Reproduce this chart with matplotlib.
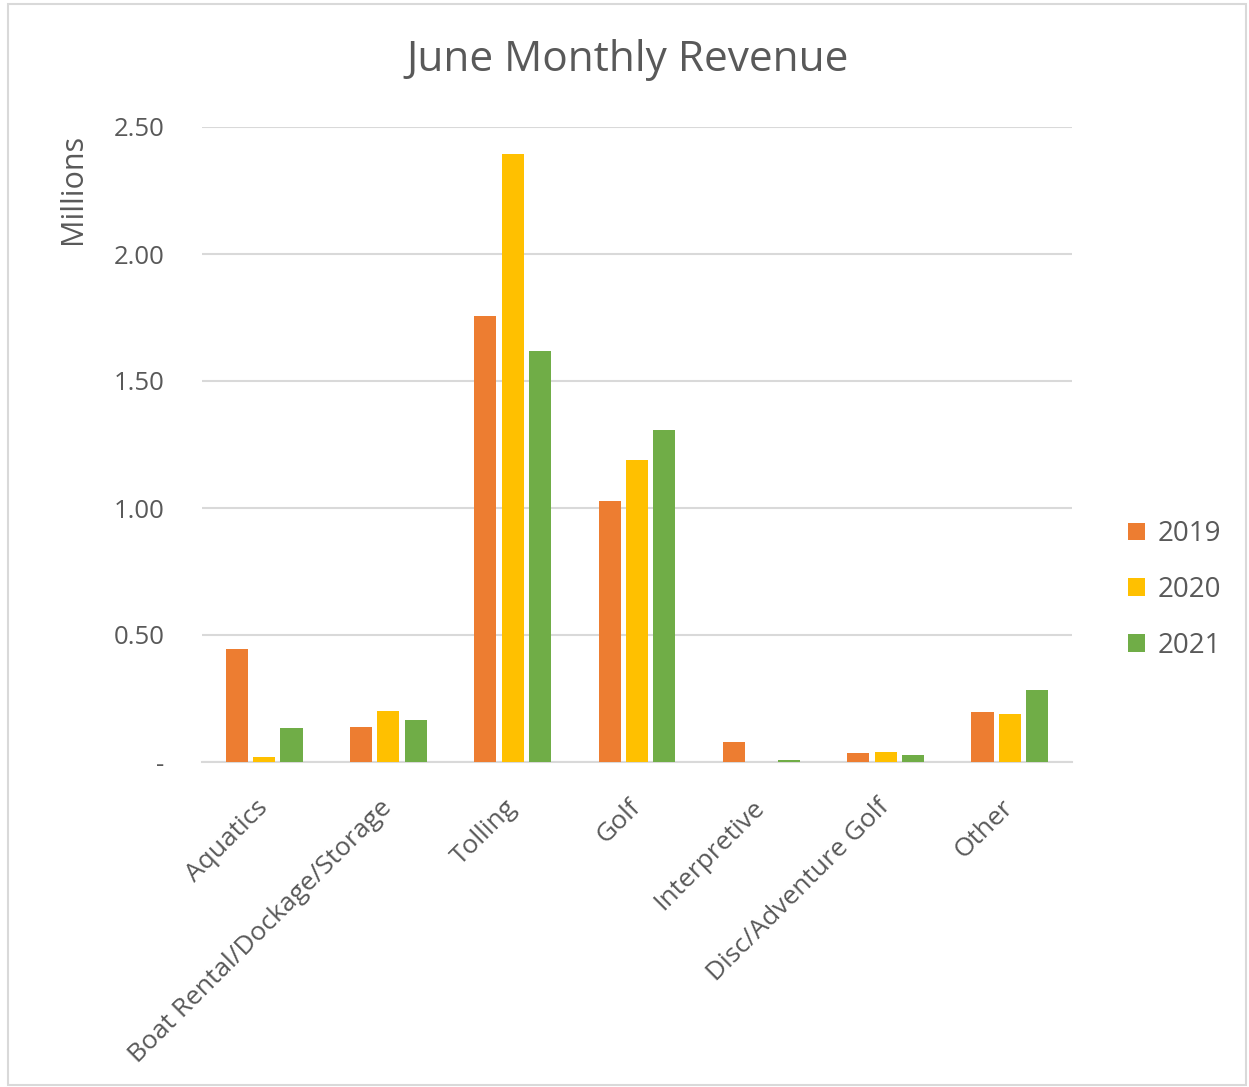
import matplotlib
matplotlib.use("Agg")
import matplotlib.pyplot as plt
import numpy as np
from matplotlib.patches import Rectangle

categories = ["Aquatics", "Boat Rental/Dockage/Storage", "Tolling", "Golf",
              "Interpretive", "Disc/Adventure Golf", "Other"]
years = ["2019", "2020", "2021"]
v2019 = [0.444, 0.139, 1.756, 1.028, 0.078, 0.034, 0.196]
v2020 = [0.020, 0.200, 2.394, 1.189, 0.0, 0.039, 0.189]
v2021 = [0.133, 0.164, 1.618, 1.307, 0.008, 0.026, 0.282]
yticks = [0, 0.5, 1.0, 1.5, 2.0, 2.5]
ytick_labels = ["-", "0.50", "1.00", "1.50", "2.00", "2.50"]
colors = ["#ED7D31", "#FFC000", "#70AD47"]

plt.rcParams['font.family'] = ['Open Sans', 'DejaVu Sans']
txt = "#595959"

W, H = 1249, 1087
fig = plt.figure(figsize=(W/100, H/100), dpi=100)
fig.patches.append(Rectangle((8/W, 2/H), (1246-8)/W, (1083-2)/H, transform=fig.transFigure,
                             fill=False, edgecolor="#D9D9D9", linewidth=1.5))

ax = fig.add_axes([202/W, 1-762/H, (1072-202)/W, (762-127)/H])
x = np.arange(len(categories))
step = 0.22
bw = 0.178
for i, (vals, c, yr) in enumerate(zip([v2019, v2020, v2021], colors, years)):
    ax.bar(x + (i-1)*step, vals, width=bw, color=c, label=yr, zorder=3)

ax.set_xlim(-0.5, len(categories)-0.5)
ax.set_ylim(0, 2.5)
ax.set_yticks(yticks)
ax.set_yticklabels(ytick_labels, color=txt, fontsize=18.5)
ax.yaxis.grid(True, color="#D9D9D9", linewidth=1.5, zorder=0)
ax.tick_params(axis='y', length=0, pad=27)
ax.tick_params(axis='x', length=0, pad=30)
for s in ["top", "right", "left"]:
    ax.spines[s].set_visible(False)
ax.spines["bottom"].set_color("#D9D9D9")
ax.spines["bottom"].set_linewidth(1.5)
ax.set_xticks(x)
ax.set_xticklabels(categories, rotation=45, ha="right", va="center",
                   rotation_mode="anchor", color=txt, fontsize=19)

fig.text(628/W, 1-60/H, "June Monthly Revenue", ha="center", va="center",
         fontsize=30.5, color=txt)
fig.text(73/W, 1-189/H, "Millions", ha="center", va="center", rotation=90,
         fontsize=22, color=txt)

leg = fig.legend(loc="center left", bbox_to_anchor=(1103/W, 1-590/H), frameon=False,
                 fontsize=20, labelcolor=txt, handlelength=0.6, handleheight=0.6,
                 handletextpad=0.45, labelspacing=1.0)

fig.savefig("out.png", dpi=100)
